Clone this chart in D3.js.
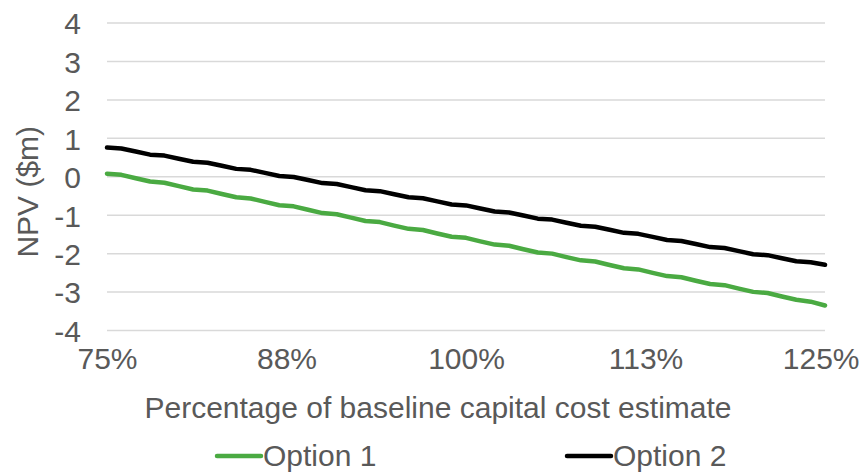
<!DOCTYPE html>
<html>
<head>
<meta charset="utf-8">
<script src="https://cdn.jsdelivr.net/npm/d3@7/dist/d3.min.js"></script>
<style>
  html, body { margin: 0; padding: 0; background: #fff; }
  svg { display: block; }
  text { font-family: "Liberation Sans", Arial, sans-serif; fill: #595959; }
</style>
</head>
<body>
<svg id="chart" width="863" height="474"></svg>
<script>
// Percentage of baseline capital cost estimate (x) and NPV in $m for each option
const costPct = d3.range(75, 126, 1);
const option1 = [
  0.080, 0.050, -0.040, -0.125, -0.155, -0.245, -0.330, -0.360, -0.450,
  -0.535, -0.565, -0.655, -0.740, -0.770, -0.860, -0.945, -0.975, -1.065,
  -1.150, -1.180, -1.270, -1.355, -1.385, -1.475, -1.560, -1.590, -1.680,
  -1.765, -1.795, -1.885, -1.970, -2.000, -2.090, -2.175, -2.205, -2.295,
  -2.380, -2.410, -2.500, -2.585, -2.615, -2.705, -2.790, -2.820, -2.910,
  -2.995, -3.025, -3.115, -3.200, -3.250, -3.350
];
const option2 = [
  0.760, 0.735, 0.655, 0.575, 0.550, 0.470, 0.390, 0.365, 0.285,
  0.205, 0.180, 0.100, 0.020, -0.005, -0.085, -0.165, -0.190, -0.270,
  -0.350, -0.375, -0.455, -0.535, -0.560, -0.640, -0.720, -0.745, -0.825,
  -0.905, -0.930, -1.010, -1.090, -1.115, -1.195, -1.275, -1.300, -1.380,
  -1.460, -1.485, -1.565, -1.645, -1.670, -1.750, -1.830, -1.855, -1.935,
  -2.015, -2.040, -2.120, -2.200, -2.225, -2.290
];
const seriesNames = ["Option 1", "Option 2"];
const seriesColors = ["#4aaa42", "#000000"];
const xTicks = [75, 87.5, 100, 112.5, 125];
const yTicks = [-4, -3, -2, -1, 0, 1, 2, 3, 4];
const xTitle = "Percentage of baseline capital cost estimate";
const yTitle = "NPV ($m)";

const svg = d3.select("#chart");
const plot = { left: 107, right: 825, top: 23, bottom: 330.5 };
const fontSize = 30;
const fontFamily = '"Liberation Sans", Arial, sans-serif';

const x = d3.scaleLinear().domain([75, 125]).range([plot.left, plot.right]);
const y = d3.scaleLinear().domain([-4, 4]).range([plot.bottom, plot.top]);

// Horizontal gridlines
svg.append("g")
  .selectAll("line")
  .data(yTicks)
  .join("line")
  .attr("x1", plot.left).attr("x2", plot.right)
  .attr("y1", d => y(d)).attr("y2", d => y(d))
  .attr("stroke", "#d9d9d9").attr("stroke-width", 1.5);

// Y axis labels
const yAxis = d3.axisLeft(y).tickValues(yTicks).tickSize(0).tickPadding(0)
  .tickFormat(d => d3.format("d")(d).replace("−", "-"));
svg.append("g")
  .attr("transform", `translate(${plot.left - 26},0)`)
  .call(yAxis)
  .call(g => g.select(".domain").remove())
  .call(g => g.selectAll("text")
    .attr("font-size", fontSize).attr("dy", "0.36em")
    .style("font-family", fontFamily)
    .attr("fill", "#595959"));

// X axis labels
const xAxis = d3.axisBottom(x).tickValues(xTicks).tickSize(0).tickPadding(0)
  .tickFormat(d => Math.round(d) + "%");
svg.append("g")
  .attr("transform", `translate(0,${plot.bottom})`)
  .call(xAxis)
  .call(g => g.select(".domain").remove())
  .call(g => g.selectAll("text")
    .attr("font-size", fontSize).attr("y", 38).attr("dy", 0)
    .style("font-family", fontFamily)
    .attr("fill", "#595959"))
  .call(g => g.selectAll(".tick").filter(d => d === 125)
    .select("text").attr("text-anchor", "end").attr("dx", 34));

// Axis titles
svg.append("text")
  .attr("x", 438).attr("y", 418)
  .attr("text-anchor", "middle").attr("font-size", fontSize)
  .text(xTitle);
svg.append("text")
  .attr("transform", `translate(38,${(plot.top + plot.bottom) / 2 + 15}) rotate(-90)`)
  .attr("text-anchor", "middle").attr("font-size", fontSize)
  .text(yTitle);

// Series lines
const series = [option1, option2];
const line = d3.line()
  .x((d, i) => x(costPct[i]))
  .y(d => y(d));
svg.append("g")
  .selectAll("path")
  .data(series)
  .join("path")
  .attr("d", d => line(d))
  .attr("fill", "none")
  .attr("stroke", (d, i) => seriesColors[i])
  .attr("stroke-width", 4.5)
  .attr("stroke-linejoin", "round")
  .attr("stroke-linecap", "round");

// Legend
const legendX = [217, 567];
const legend = svg.append("g")
  .selectAll("g")
  .data(seriesNames)
  .join("g")
  .attr("transform", (d, i) => `translate(${legendX[i]},456)`);
legend.append("line")
  .attr("x1", 0).attr("x2", 44).attr("y1", 0).attr("y2", 0)
  .attr("stroke", (d, i) => seriesColors[i])
  .attr("stroke-width", 4.5).attr("stroke-linecap", "round");
legend.append("text")
  .attr("x", 46).attr("y", 10)
  .attr("font-size", fontSize)
  .text(d => d);
</script>
</body>
</html>
